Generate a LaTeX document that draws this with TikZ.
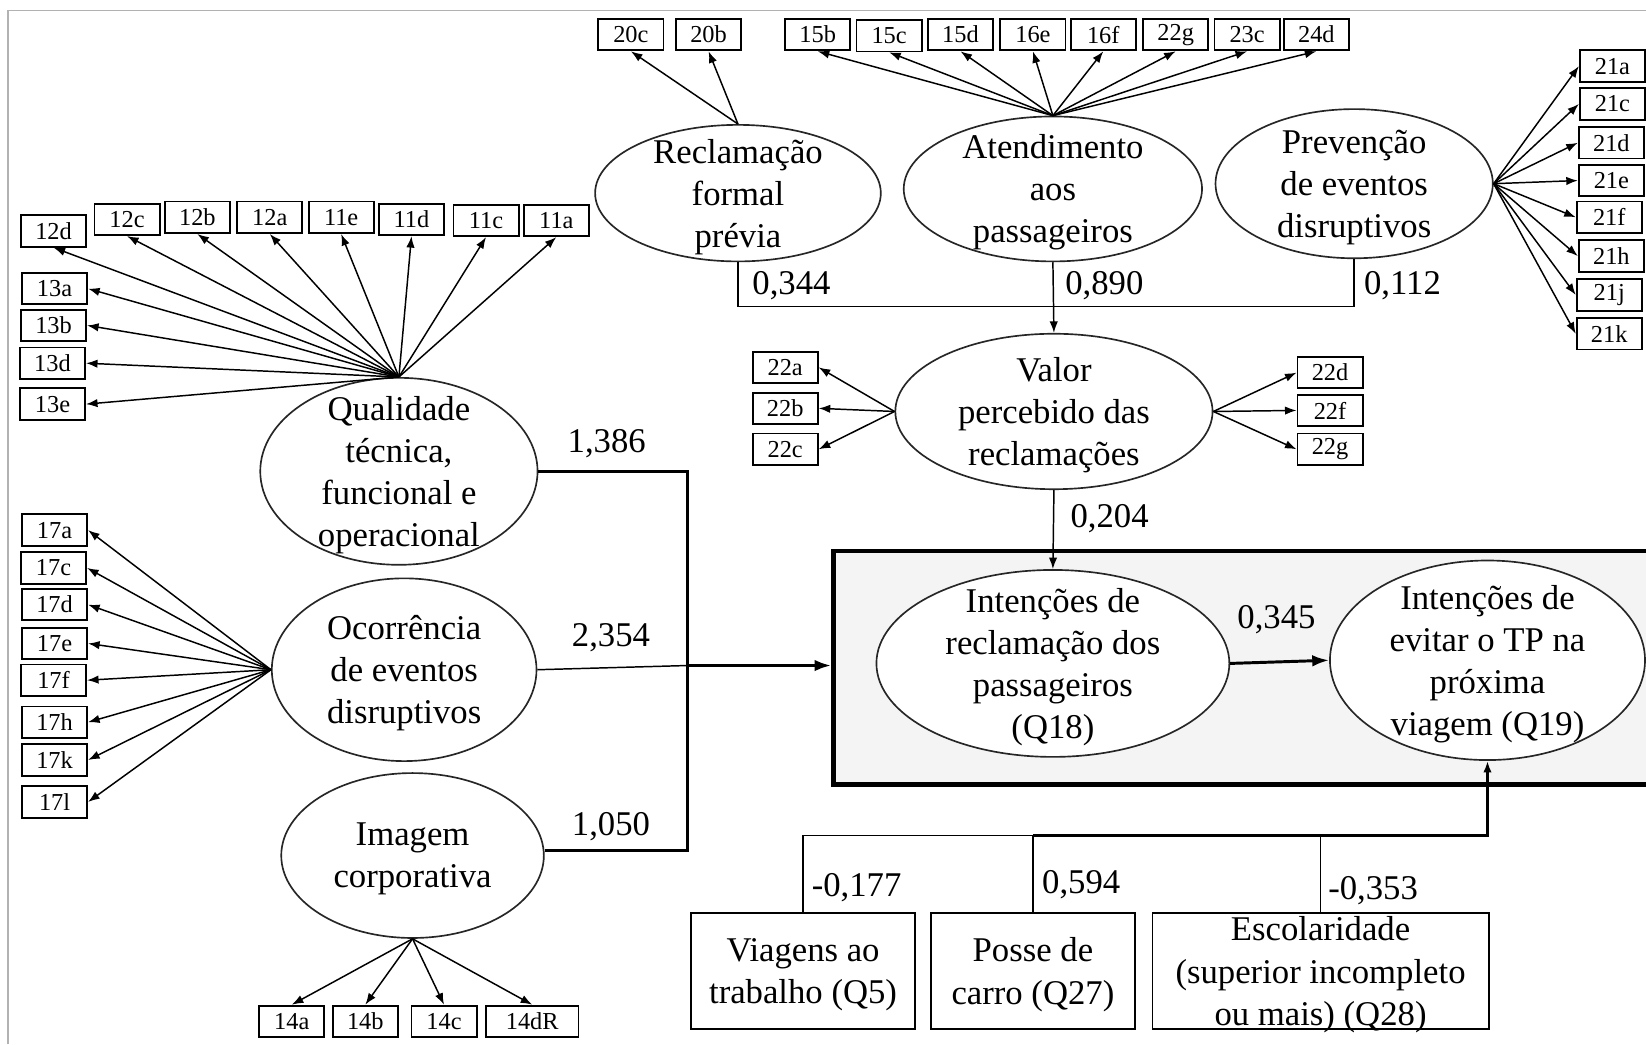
\documentclass[tikz,border=0pt]{standalone}
\usepackage{fontspec}
\setmainfont{Liberation Serif}
\usetikzlibrary{arrows.meta,shapes.geometric}

\begin{document}
\begin{tikzpicture}[x=0.01cm,y=-0.01cm]
	\tikzstyle{item}=[rectangle,draw=black,line width=0.5pt,minimum width=0.62cm,minimum height=0.3cm,inner sep=0pt,font=\fontsize{6.6}{7}\selectfont]
	\tikzstyle{latent}=[ellipse,draw=black!85,line width=0.45pt,fill=white,inner sep=0pt]
	\tikzstyle{txt}=[align=center,font=\fontsize{9.4}{11.4}\selectfont,inner sep=0pt,yshift=-0.035cm]
	\tikzstyle{obs}=[rectangle,draw=black,line width=0.5pt,minimum height=1.1cm,inner sep=0pt]
	\tikzstyle{load}=[-{Latex[length=1.1mm,width=0.8mm]},line width=0.4pt]
	\tikzstyle{link}=[line width=0.4pt]
	\tikzstyle{strong}=[line width=0.9pt]
	\tikzstyle{wt}=[font=\fontsize{9.4}{11.4}\selectfont,inner sep=0pt]

	\fill[white] (0,0) rectangle (1568,995);
	\useasboundingbox (0,0) rectangle (1568,995);
	\draw[gray!60,line width=0.5pt] (8,995) -- (8,10) -- (1568,10);

	% destaque das intencoes
	\node[rectangle,draw=black,line width=1.2pt,fill=gray!9,minimum width=8cm,minimum height=2.22cm,anchor=north west] (panel) at (792,523) {};

	% construtos latentes
	\node[latent,minimum width=2.64cm,minimum height=1.78cm,label={[txt]center:{Qualidade\\técnica,\\funcional e\\operacional}}] (qual) at (380,449) {};
	\node[latent,minimum width=2.52cm,minimum height=1.74cm,label={[txt]center:{Ocorrência\\de eventos\\disruptivos}}] (oco) at (385,638) {};
	\node[latent,minimum width=2.5cm,minimum height=1.57cm,label={[txt]center:{Imagem\\corporativa}}] (img) at (393,815) {};
	\node[latent,minimum width=2.72cm,minimum height=1.3cm,label={[txt]center:{Reclamação\\formal\\prévia}}] (rec) at (703,184) {};
	\node[latent,minimum width=2.84cm,minimum height=1.38cm,label={[txt]center:{Atendimento\\aos\\passageiros}}] (aten) at (1003,180) {};
	\node[latent,minimum width=2.64cm,minimum height=1.42cm,label={[txt]center:{Prevenção\\de eventos\\disruptivos}}] (prev) at (1290,175) {};
	\node[latent,minimum width=3.02cm,minimum height=1.48cm,label={[txt]center:{Valor\\percebido das\\reclamações}}] (val) at (1004,392) {};
	\node[latent,minimum width=3.36cm,minimum height=1.78cm,label={[txt]center:{Intenções de\\reclamação dos\\passageiros\\(Q18)}}] (q18) at (1003,632) {};
	\node[latent,minimum width=3cm,minimum height=1.9cm,label={[txt]center:{Intenções de\\evitar o TP na\\próxima\\viagem (Q19)}}] (q19) at (1417,629) {};

	% variaveis de controle
	\node[obs,minimum width=2.13cm,label={[txt]center:{Viagens ao\\trabalho (Q5)}}] (q5) at (765,925) {};
	\node[obs,minimum width=1.94cm,label={[txt]center:{Posse de\\carro (Q27)}}] (q27) at (984,925) {};
	\node[obs,minimum width=3.2cm,label={[txt]center:{Escolaridade\\(superior incompleto\\ou mais) (Q28)}}] (q28) at (1258,925) {};

	% indicadores
	\node[item] (12d) at (51,220) {12d};
	\node[item] (12c) at (121,209) {12c};
	\node[item] (12b) at (188,207) {12b};
	\node[item] (12a) at (257,207) {12a};
	\node[item] (11e) at (325,207) {11e};
	\node[item] (11d) at (392,209) {11d};
	\node[item] (11c) at (463,210) {11c};
	\node[item] (11a) at (530,210) {11a};
	\node[item] (13a) at (52,275) {13a};
	\node[item] (13b) at (51,310) {13b};
	\node[item] (13d) at (50,346) {13d};
	\node[item] (13e) at (50,385) {13e};
	\node[item] (17a) at (52,505) {17a};
	\node[item] (17c) at (51,541) {17c};
	\node[item] (17d) at (52,576) {17d};
	\node[item] (17e) at (52,613) {17e};
	\node[item] (17f) at (51,648) {17f};
	\node[item] (17h) at (52,688) {17h};
	\node[item] (17k) at (52,724) {17k};
	\node[item] (17l) at (52,764) {17l};
	\node[item] (14a) at (278,973) {14a};
	\node[item] (14b) at (348,973) {14b};
	\node[item] (14c) at (423,973) {14c};
	\node[item,minimum width=0.88cm] (14dR) at (507,973) {14dR};
	\node[item] (20c) at (601,33) {20c};
	\node[item] (20b) at (675,33) {20b};
	\node[item] (15b) at (779,33) {15b};
	\node[item] (15c) at (847,34) {15c};
	\node[item] (15d) at (915,33) {15d};
	\node[item] (16e) at (984,33) {16e};
	\node[item] (16f) at (1051,33) {16f};
	\node[item] (22g) at (1120,33) {22g};
	\node[item] (23c) at (1188,33) {23c};
	\node[item] (24d) at (1254,33) {24d};
	\node[item] (21a) at (1536,63) {21a};
	\node[item] (21c) at (1536,99) {21c};
	\node[item] (21d) at (1535,136) {21d};
	\node[item] (21e) at (1535,172) {21e};
	\node[item] (21f) at (1533,207) {21f};
	\node[item] (21h) at (1535,244) {21h};
	\node[item] (21j) at (1533,281) {21j};
	\node[item] (21k) at (1533,318) {21k};
	\node[item] (22a) at (748,350) {22a};
	\node[item] (22b) at (748,389) {22b};
	\node[item] (22c) at (748,428) {22c};
	\node[item] (22d) at (1267,355) {22d};
	\node[item] (22f) at (1267,391) {22f};
	\node[item] (22gv) at (1267,428) {22g};

	\draw[load] (qual.north) -- (12d.south);
	\draw[load] (qual.north) -- (12c.south);
	\draw[load] (qual.north) -- (12b.south);
	\draw[load] (qual.north) -- (12a.south);
	\draw[load] (qual.north) -- (11e.south);
	\draw[load] (qual.north) -- (11d.south);
	\draw[load] (qual.north) -- (11c.south);
	\draw[load] (qual.north) -- (11a.south);
	\draw[load] (qual.north) -- (13a.east);
	\draw[load] (qual.north) -- (13b.east);
	\draw[load] (qual.north) -- (13d.east);
	\draw[load] (qual.north) -- (13e.east);
	\draw[load] (oco.west) -- (17a.east);
	\draw[load] (oco.west) -- (17c.east);
	\draw[load] (oco.west) -- (17d.east);
	\draw[load] (oco.west) -- (17e.east);
	\draw[load] (oco.west) -- (17f.east);
	\draw[load] (oco.west) -- (17h.east);
	\draw[load] (oco.west) -- (17k.east);
	\draw[load] (oco.west) -- (17l.east);
	\draw[load] (img.south) -- (14a.north);
	\draw[load] (img.south) -- (14b.north);
	\draw[load] (img.south) -- (14c.north);
	\draw[load] (img.south) -- (14dR.north);
	\draw[load] (rec.north) -- (20c.south);
	\draw[load] (rec.north) -- (20b.south);
	\draw[load] (aten.north) -- (15b.south);
	\draw[load] (aten.north) -- (15c.south);
	\draw[load] (aten.north) -- (15d.south);
	\draw[load] (aten.north) -- (16e.south);
	\draw[load] (aten.north) -- (16f.south);
	\draw[load] (aten.north) -- (22g.south);
	\draw[load] (aten.north) -- (23c.south);
	\draw[load] (aten.north) -- (24d.south);
	\draw[load] (prev.east) -- (21a.west);
	\draw[load] (prev.east) -- (21c.west);
	\draw[load] (prev.east) -- (21d.west);
	\draw[load] (prev.east) -- (21e.west);
	\draw[load] (prev.east) -- (21f.west);
	\draw[load] (prev.east) -- (21h.west);
	\draw[load] (prev.east) -- (21j.west);
	\draw[load] (prev.east) -- (21k.west);
	\draw[load] (val.west) -- (22a.east);
	\draw[load] (val.west) -- (22b.east);
	\draw[load] (val.west) -- (22c.east);
	\draw[load] (val.east) -- (22d.west);
	\draw[load] (val.east) -- (22f.west);
	\draw[load] (val.east) -- (22gv.west);

	% caminhos estruturais
	\coordinate (top) at (703,292);
	\draw[link] (rec.south) -- (rec.south |- top) -- (prev.south |- top) -- (prev.south);
	\draw[load] (aten.south) -- (val.north);
	\draw[load] (val.south) -- (q18.north);
	\draw[-{Latex[length=1.6mm,width=1.1mm]},line width=0.8pt] (q18.east) -- (q19.west);

	\coordinate (j1) at (655,449);
	\coordinate (j2) at (655,634);
	\coordinate (j3) at (655,810);
	\draw[strong] (qual.east) -- (j1) -- (j3) -- (img.east |- j3);
	\draw[link] (oco.east) -- (j2);
	\draw[strong,-{Latex[length=1.6mm,width=1.1mm]}] (j2) -- (panel.west |- j2);

	\coordinate (bot) at (1417,796);
	\draw[link] (q5.north) -- (q5.north |- bot) -- (q27.north |- bot);
	\draw[link] (q27.north) -- (q27.north |- bot);
	\draw[link] (q28.north) -- (q28.north |- bot);
	\draw[line width=0.7pt,-{Latex[length=1.1mm,width=0.8mm]}] (q27.north |- bot) -- (bot) -- (q19.south);

	% coeficientes
	\node[wt] (w1) at (578,423) {1,386};
	\node[wt] (w2) at (582,607) {2,354};
	\node[wt] (w3) at (582,787) {1,050};
	\node[wt] (w4) at (754,272) {0,344};
	\node[wt] (w5) at (1052,272) {0,890};
	\node[wt] (w6) at (1336,272) {0,112};
	\node[wt] (w7) at (1057,494) {0,204};
	\node[wt] (w8) at (1216,590) {0,345};
	\node[wt] (w9) at (816,846) {-0,177};
	\node[wt] (w10) at (1030,843) {0,594};
	\node[wt] (w11) at (1308,848) {-0,353};
\end{tikzpicture}
\end{document}
